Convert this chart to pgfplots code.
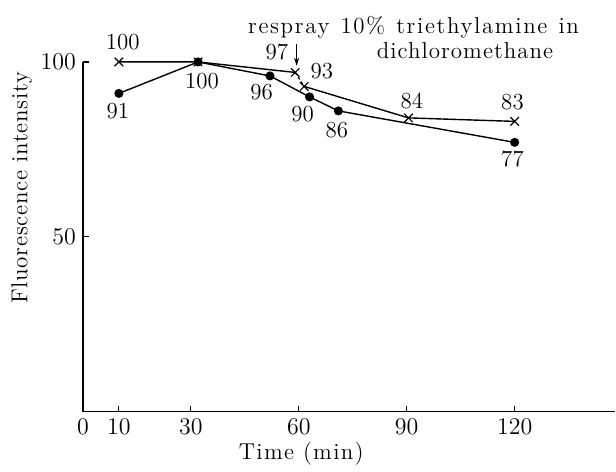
\documentclass[border=0pt]{standalone}
\usepackage{fontspec}
\setmainfont{Latin Modern Roman}
\usepackage{pgfplots}
\pgfplotsset{compat=1.18}
\usetikzlibrary{arrows.meta}
\newfontfamily\lsA[LetterSpace=7.2]{Latin Modern Roman}
\newfontfamily\lsT[LetterSpace=6]{Latin Modern Roman}
\newfontfamily\lsY[LetterSpace=3.3]{Latin Modern Roman}
\newfontfamily\lsD[LetterSpace=4.5]{Latin Modern Roman}
\begin{document}
\begin{tikzpicture}[font=\fontsize{11.5}{13.5}\selectfont]
\begin{axis}[
  scale only axis,
  width=266.5pt, height=175pt,
  xmin=0, xmax=148, ymin=0, ymax=100,
  axis x line=bottom, axis y line=left,
  axis line style={-, line width=0.6pt},
  xtick={0,10,30,60,90,120},
  ytick={50,100},
  tick align=inside,
  major tick length=3pt,
  tick style={line width=0.6pt, black},
  clip=false,
  xlabel={\lsT Time (min)},
  ylabel={\lsY Fluorescence intensity},
  xlabel style={at={(axis description cs:0.41,-0.12)}, anchor=center},
  ylabel style={at={(axis description cs:-0.115,0.64)}, anchor=center, rotate=0},
]
\addplot[black, line width=0.7pt, mark=*, mark size=1.9pt]
  coordinates {(10,91) (32,100) (52,96) (63,90) (71,86) (120,77)};
\addplot[black, line width=0.7pt, mark=x, mark size=3pt, mark options={line width=0.6pt}]
  coordinates {(10,100) (32,100) (59,97)};
\addplot[black, line width=0.6pt, dashed, dash pattern=on 1.5pt off 1.2pt]
  coordinates {(59,97) (61.5,93)};
\addplot[black, line width=0.7pt, mark=x, mark size=3pt, mark options={line width=0.6pt}]
  coordinates {(61.5,93) (90.5,84) (120,83)};
\node at (axis cs:11.1,105.7) {100};
\node at (axis cs:9.7,86.0) {91};
\node at (axis cs:33.1,94.6) {100};
\node at (axis cs:53.9,102.9) {97};
\node at (axis cs:49.7,91.4) {96};
\node at (axis cs:66.4,97.4) {93};
\node at (axis cs:61.1,85.1) {90};
\node at (axis cs:70.6,80.6) {86};
\node at (axis cs:91.4,88.9) {84};
\node at (axis cs:119.4,88.6) {83};
\node at (axis cs:119.4,72.3) {77};
\node at (axis cs:91.9,110.0) {\lsA respray\hspace{1pt} 10\%\hspace{1pt} triethylamine\hspace{1pt} in};
\node at (axis cs:106.2,103.1) {\lsD dichloromethane};
\draw[-{Stealth[length=4pt,width=2.5pt]}, line width=0.6pt] (axis cs:59.4,105.1) -- (axis cs:59.4,98.9);
\end{axis}
\path (current axis.south west) ++(-41.5pt,-27pt);
\path (current axis.south west) ++(266.5pt,206pt);
\end{tikzpicture}
\end{document}
